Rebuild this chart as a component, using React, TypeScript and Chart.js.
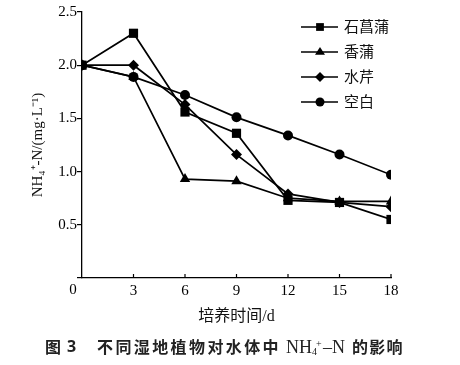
import React, { useEffect, useRef } from "react";
import { Chart, registerables } from "chart.js";

Chart.register(...registerables);

const days = [0, 3, 6, 9, 12, 15, 18];
const changpu = [2.0, 2.3, 1.56, 1.36, 0.73, 0.71, 0.55];
const xiangpu = [2.0, 1.89, 0.93, 0.91, 0.75, 0.72, 0.72];
const shuiqin = [2.0, 2.0, 1.63, 1.16, 0.79, 0.71, 0.67];
const kongbai = [2.0, 1.89, 1.72, 1.51, 1.34, 1.16, 0.97];
const seriesNames = ["石菖蒲", "香蒲", "水芹", "空白"];
const xTicks = [0, 3, 6, 9, 12, 15, 18];
const yTicks = [0, 0.5, 1.0, 1.5, 2.0, 2.5];

const SERIF = "'Liberation Serif', 'Times New Roman', 'Noto Sans CJK SC', serif";
const CJK = "'Liberation Serif', 'Noto Sans CJK SC', serif";

function drawMarker(ctx: CanvasRenderingContext2D, style: string, x: number, y: number, r: number) {
  ctx.beginPath();
  if (style === "rect") {
    const s = r * Math.SQRT1_2;
    ctx.rect(x - s, y - s, 2 * s, 2 * s);
  } else if (style === "triangle") {
    ctx.moveTo(x, y - r);
    ctx.lineTo(x + r, y + r * 0.55);
    ctx.lineTo(x - r, y + r * 0.55);
    ctx.closePath();
  } else if (style === "rectRot") {
    ctx.moveTo(x, y - r);
    ctx.lineTo(x + r, y);
    ctx.lineTo(x, y + r);
    ctx.lineTo(x - r, y);
    ctx.closePath();
  } else {
    ctx.arc(x, y, r, 0, Math.PI * 2);
  }
  ctx.fill();
}

const customPlugin = {
  id: "custom",
  afterDraw(chart: any) {
    const ctx: CanvasRenderingContext2D = chart.ctx;
    const xs = chart.scales.x;
    const ys = chart.scales.y;
    ctx.save();
    // inward x ticks
    ctx.strokeStyle = "#000";
    ctx.lineWidth = 1.2;
    const axisY = ys.getPixelForValue(0);
    xTicks.forEach((t) => {
      if (t === 0) return;
      const px = xs.getPixelForValue(t);
      ctx.beginPath();
      ctx.moveTo(px, axisY);
      ctx.lineTo(px, axisY - 4);
      ctx.stroke();
    });
    // origin label
    ctx.fillStyle = "#000";
    ctx.font = `15px ${SERIF}`;
    ctx.textAlign = "center";
    ctx.textBaseline = "middle";
    ctx.fillText("0", xs.getPixelForValue(0) - 9, axisY + 12);

    // legend
    const styles = ["rect", "triangle", "rectRot", "circle"];
    const sizes = [5.5, 5, 5, 4.5];
    seriesNames.forEach((name, i) => {
      const ry = 27 + i * 25;
      ctx.strokeStyle = "#000";
      ctx.lineWidth = 1.6;
      ctx.beginPath();
      ctx.moveTo(301, ry);
      ctx.lineTo(338, ry);
      ctx.stroke();
      ctx.fillStyle = "#000";
      drawMarker(ctx, styles[i], 320, ry, sizes[i]);
      ctx.fillStyle = "#111";
      ctx.font = `15px ${CJK}`;
      ctx.textAlign = "left";
      ctx.textBaseline = "middle";
      ctx.fillText(name, 344, ry + 1);
    });

    // caption
    const cy = 347;
    ctx.fillStyle = "#222";
    ctx.textBaseline = "middle";
    ctx.textAlign = "left";
    ctx.font = `bold 16px 'Noto Sans CJK SC', sans-serif`;
    ctx.fillText("图", 45, cy);
    ctx.font = `bold 16px 'Noto Sans', 'Noto Sans CJK SC', sans-serif`;
    ctx.fillText("3", 67, cy);
    ctx.font = `bold 16px 'Noto Sans CJK SC', sans-serif`;
    const chars = "不同湿地植物对水体中";
    for (let i = 0; i < chars.length; i++) {
      ctx.fillText(chars[i], 97 + i * 18.4, cy);
    }
    ctx.font = `18px ${SERIF}`;
    ctx.fillText("NH", 286, cy + 1);
    const w = ctx.measureText("NH").width;
    ctx.font = `10px ${SERIF}`;
    ctx.fillText("4", 286 + w, cy + 5);
    ctx.fillText("+", 286 + w + 4, cy - 3);
    ctx.font = `18px ${SERIF}`;
    ctx.fillText("–N", 286 + w + 11, cy + 1);
    ctx.font = `bold 16px 'Noto Sans CJK SC', sans-serif`;
    const tail = "的影响";
    for (let i = 0; i < tail.length; i++) {
      ctx.fillText(tail[i], 352 + i * 17.2, cy);
    }
    ctx.restore();
  },
};

export default function App() {
  const ref = useRef<HTMLCanvasElement | null>(null);
  useEffect(() => {
    document.body.style.margin = "0";
    const mk = (data: number[], style: string, r: number) => ({
      data: days.map((d, i) => ({ x: d, y: data[i] })),
      borderColor: "#000",
      backgroundColor: "#000",
      borderWidth: 1.7,
      pointStyle: style,
      pointRadius: r,
      pointBorderWidth: 0,
      tension: 0,
    });
    const chart = new Chart(ref.current as HTMLCanvasElement, {
      type: "line",
      data: {
        datasets: [
          { label: seriesNames[0], ...mk(changpu, "rect", 6.5) },
          { label: seriesNames[1], ...mk(xiangpu, "triangle", 6) },
          { label: seriesNames[2], ...mk(shuiqin, "rectRot", 5.5) },
          { label: seriesNames[3], ...mk(kongbai, "circle", 5) },
        ] as any,
      },
      options: {
        animation: false,
        responsive: false,
        maintainAspectRatio: false,
        layout: { padding: { top: 12, right: 69, left: 0, bottom: 0 } },
        plugins: { legend: { display: false }, tooltip: { enabled: false } },
        scales: {
          x: {
            type: "linear",
            min: 0,
            max: 18,
            afterFit: (s: any) => {
              s.height = 87;
            },
            afterBuildTicks: (s: any) => {
              s.ticks = xTicks.map((v) => ({ value: v }));
            },
            grid: { display: true, drawOnChartArea: false, drawTicks: false },
            border: { display: true, color: "#000", width: 1.3 },
            ticks: {
              color: "#000",
              font: { family: SERIF, size: 15 },
              padding: 4,
              maxRotation: 0,
              callback: (v: any) => (v === 0 ? "" : String(v)),
            },
            title: {
              display: true,
              text: "培养时间/d",
              color: "#111",
              font: { family: CJK, size: 16 },
              padding: { top: 0, bottom: 39 },
            },
          },
          y: {
            type: "linear",
            min: 0,
            max: 2.5,
            afterFit: (s: any) => {
              s.width = 82;
            },
            afterBuildTicks: (s: any) => {
              s.ticks = yTicks.map((v) => ({ value: v }));
            },
            grid: { display: true, drawOnChartArea: false, drawTicks: true, tickLength: 5, color: "#000", lineWidth: 1.2 },
            border: { display: true, color: "#000", width: 1.3 },
            ticks: {
              color: "#000",
              font: { family: SERIF, size: 15 },
              padding: 0,
              callback: (v: any) => (v === 0 ? "" : Number(v).toFixed(1)),
            },
            title: {
              display: true,
              text: "NH₄⁺-N/(mg·L⁻¹)",
              color: "#111",
              font: { family: SERIF, size: 15 },
              padding: { top: 29, bottom: 0 },
            },
          },
        },
      },
      plugins: [customPlugin],
    });
    return () => chart.destroy();
  }, []);
  return <canvas ref={ref} width={460} height={365} style={{ display: "block" }} />;
}
